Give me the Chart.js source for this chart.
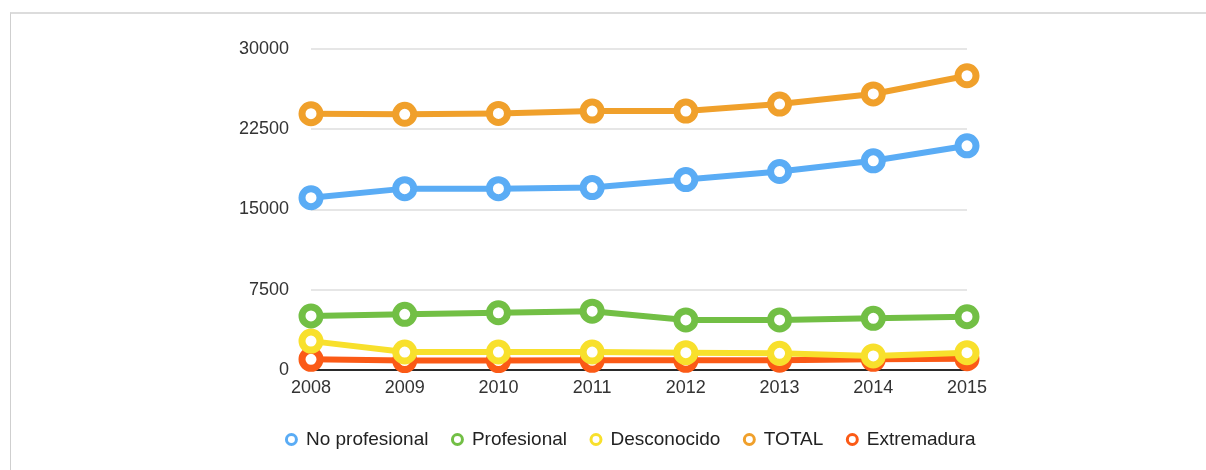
<!DOCTYPE html>
<html>
<head>
<meta charset="utf-8">
<script src="https://cdn.jsdelivr.net/npm/chart.js@4/dist/chart.umd.min.js"></script>
<style>
  html, body { margin: 0; padding: 0; background: #fff; }
  #frame { position: absolute; left: 10px; top: 12px; width: 1196px; height: 458px;
           border-left: 1px solid #cfcfcf; border-top: 2px solid #dcdcdc; box-sizing: border-box; }
  #wrap { position: absolute; left: 0; top: 0; width: 1206px; height: 470px; }
</style>
</head>
<body>
<div id="frame"></div>
<div id="wrap"><canvas id="c" width="1206" height="470"></canvas></div>
<script>
const years = ['2008', '2009', '2010', '2011', '2012', '2013', '2014', '2015'];
const noProfesional = [16100, 16950, 16950, 17050, 17800, 18550, 19550, 20950];
const profesional   = [5050, 5200, 5350, 5500, 4680, 4680, 4830, 4980];
const desconocido   = [2700, 1680, 1680, 1680, 1620, 1560, 1320, 1620];
const total         = [23950, 23900, 23980, 24200, 24200, 24850, 25800, 27500];
const extremadura   = [1000, 880, 880, 900, 900, 920, 1000, 1050];
const yTicks = [0, 7500, 15000, 22500, 30000];

const names  = ['No profesional', 'Profesional', 'Desconocido', 'TOTAL', 'Extremadura'];
const series = [noProfesional, profesional, desconocido, total, extremadura];
const colors = ['#5aacf5', '#72bf45', '#f8e02c', '#f0a02b', '#fb5a16'];

const FONT = "'Liberation Sans', Arial, Helvetica, sans-serif";

const datasets = names.map((n, i) => ({
  label: n,
  data: series[i],
  borderColor: colors[i],
  backgroundColor: '#ffffff',
  borderWidth: 6,
  pointRadius: 9,
  pointHoverRadius: 9,
  pointBorderWidth: 7,
  pointBackgroundColor: '#ffffff',
  pointBorderColor: colors[i],
  tension: 0,
  clip: false
}));

// centre the legend under the plot area instead of under the whole canvas
const legendShift = {
  id: 'legendShift',
  afterLayout(chart) {
    const lg = chart.legend;
    if (!lg) return;
    const ca = chart.chartArea;
    const mid = (lg.left + lg.right) / 2;
    const target = (ca.left + ca.right) / 2 - 8;
    const d = target - mid;
    lg.left += d; lg.right += d;
  }
};

new Chart(document.getElementById('c'), {
  type: 'line',
  data: { labels: years, datasets },
  plugins: [legendShift],
  options: {
    responsive: false,
    animation: false,
    layout: { padding: { left: 0, right: 239, top: 49, bottom: 11 } },
    scales: {
      x: {
        offset: false,
        grid: { display: false, drawTicks: false },
        border: { display: false },
        ticks: { color: '#333', font: { family: FONT, size: 18 }, padding: 7, maxRotation: 0 },
        afterFit: s => { s.height = 36; }
      },
      y: {
        min: 0, max: 30000,
        afterBuildTicks: s => { s.ticks = yTicks.map(v => ({ value: v })); },
        grid: {
          drawTicks: false,
          lineWidth: 2,
          color: c => (c.tick && c.tick.value === 0) ? '#2a2a2a' : '#e6e6e6'
        },
        border: { display: false },
        ticks: { color: '#333', font: { family: FONT, size: 18 }, padding: 22,
                 callback: v => String(v) },
        afterFit: s => { s.width = 311; }
      }
    },
    plugins: {
      legend: {
        position: 'bottom',
        labels: {
          color: '#222',
          font: { family: FONT, size: 19 },
          usePointStyle: true,
          pointStyle: 'circle',
          boxHeight: 7,
          pointStyleWidth: 10,
          padding: 24,
          generateLabels: chart => {
            const items = Chart.defaults.plugins.legend.labels.generateLabels(chart);
            items.forEach(it => { it.lineWidth = 3; it.fillStyle = '#ffffff'; });
            return items;
          }
        }
      },
      tooltip: { enabled: false }
    }
  }
});
</script>
</body>
</html>
